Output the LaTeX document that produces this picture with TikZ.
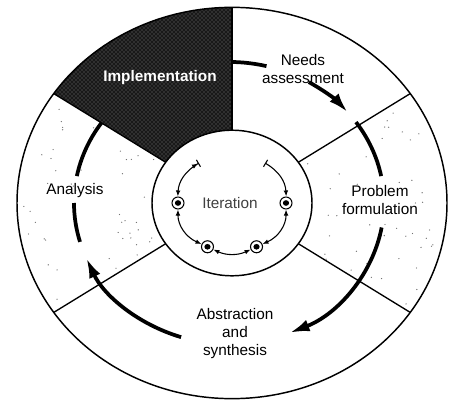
\documentclass[tikz,border=0pt]{standalone}
\usepackage{fontspec}
\setmainfont{Liberation Sans}
\usetikzlibrary{arrows.meta,patterns}

\tikzset{
  ring/.style={line width=1.1pt},
  divider/.style={line width=1pt},
  flow/.style={line width=2.8pt},
  flowtip/.style={flow, -{Latex[length=15pt,width=9pt]}},
  stage/.style={font=\fontsize{11.5}{13.5}\selectfont, align=center},
  itstep/.style={shape=circle, draw=black, line width=0.8pt, fill=white, minimum size=9pt, inner sep=0pt},
  itarc/.style={line width=0.8pt},
}

\begin{document}
\begin{tikzpicture}[x=0.75pt,y=0.75pt]
        \useasboundingbox (0,0) rectangle (453,404);
        \begin{scope}[shift={(232,201)}, yscale=0.91]
        % sectors
        \pgfmathsetseed{12}
        \foreach \i in {1,...,45}{
          \pgfmathsetmacro{\ang}{-34+68*rnd}
          \pgfmathsetmacro{\rad}{86+124*rnd}
          \fill[black!55] (\ang:\rad) circle (0.7);
          \pgfmathsetmacro{\ang}{146+68*rnd}
          \pgfmathsetmacro{\rad}{86+124*rnd}
          \fill[black!55] (\ang:\rad) circle (0.7);
        }

        % flow round the cycle
        \begin{scope}[shift={(-3,0)}]
        \draw[flow] (169:155) arc[start angle=169,end angle=76,radius=155];
        \draw[flowtip] (59:155) arc[start angle=59,end angle=40,radius=155];
        \draw[flow] (35:155) arc[start angle=35,end angle=11,radius=155];
        \draw[flowtip] (-10:155) arc[start angle=-10,end angle=-67,radius=155];
        \draw[flowtip] (-108:155) arc[start angle=-108,end angle=-157,radius=155];
        \draw[flow] (-164:155) arc[start angle=-164,end angle=-180,radius=155];
        \end{scope}

        % dark sector over the flow
        \fill[black!90] (90:80) arc[start angle=90,end angle=146,radius=80] -- (146:215) arc[start angle=146,end angle=90,radius=215] -- cycle;
        \fill[pattern=crosshatch dots, pattern color=black!50] (90:80) arc[start angle=90,end angle=146,radius=80] -- (146:215) arc[start angle=146,end angle=90,radius=215] -- cycle;

        \draw[ring] (0,0) circle[radius=215];
        \draw[ring] (0,0) circle[radius=80];
        \foreach \a in {90,34,-34,-146,146}
          \draw[divider] (\a:80) -- (\a:215);

        \node[stage] (needs) at (71,147) {Needs\\assessment};
        \node[stage, text=white, font=\fontsize{11.5}{13.5}\selectfont\bfseries] (impl) at (-72,138) {Implementation};
        \node[stage] (analysis) at (-157,14) {Analysis};
        \node[stage] (problem) at (148,3) {Problem\\formulation};
        \node[stage] (abstr) at (3,-143) {Abstraction\\and\\synthesis};
        \node[stage, text=black!75] (iter) at (-2,0) {Iteration};

        % iteration loop
        \coordinate (tk-l) at (127:55);
        \coordinate (tk-r) at (53:55);
        \node[itstep] (st-l) at (180:54) {};
        \node[itstep] (st-bl) at (243:54) {};
        \node[itstep] (st-br) at (297:54) {};
        \node[itstep] (st-r) at (0:54) {};
        \foreach \s in {st-l,st-bl,st-br,st-r}
          \fill (\s.center) circle[radius=3.1];

        \path[itarc]
        (tk-l) edge[bend right=27, {Bar[width=6pt]Latex[length=4.5pt,width=3.5pt]}-{Latex[length=4.5pt,width=3.5pt]}] (st-l)
        (st-l) edge[bend right=32, {Latex[length=4.5pt,width=3.5pt]}-{Latex[length=4.5pt,width=3.5pt]}] (st-bl)
        (st-bl) edge[bend right=27, {Latex[length=4.5pt,width=3.5pt]}-{Latex[length=4.5pt,width=3.5pt]}] (st-br)
        (st-br) edge[bend right=32, {Latex[length=4.5pt,width=3.5pt]}-{Latex[length=4.5pt,width=3.5pt]}] (st-r)
        (tk-r) edge[bend left=27, {Bar[width=6pt]}-{Latex[length=4.5pt,width=3.5pt]}] (st-r)
        ;
        \end{scope}
\end{tikzpicture}
\end{document}
